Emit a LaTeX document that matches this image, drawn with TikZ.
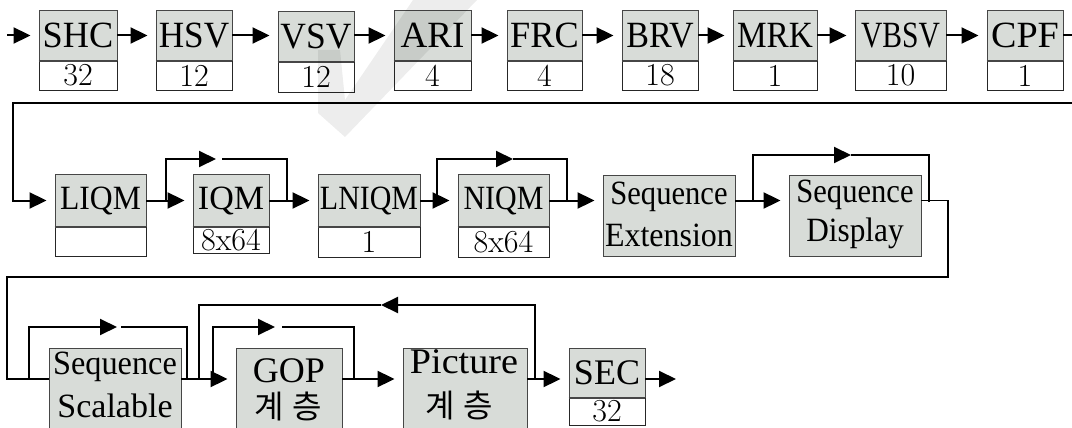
\documentclass[tikz,border=0pt]{standalone}
\usepackage{fontspec}
\usepackage{graphicx}
\usetikzlibrary{arrows.meta}
\newfontfamily\boxfont{Liberation Serif}
\newfontfamily\krfont{Noto Sans CJK KR}
\definecolor{boxgray}{RGB}{216,220,216}
\definecolor{edge}{RGB}{70,70,70}
% horizontal squeeze of a label
\newcommand\hsq[2]{\scalebox{#1}[1]{#2}}
\newcommand\kr{{\krfont 계\hspace{0.26em}층}}

\begin{document}
\begin{tikzpicture}[x=1pt,y=-1pt,
  head/.style={draw=edge, line width=0.9pt, fill=boxgray, inner sep=0pt},
  big/.style={font=\boxfont\fontsize{37}{40}\selectfont},
  mid/.style={font=\boxfont\fontsize{34}{38}\selectfont},
  low/.style={font=\boxfont\fontsize{36}{38}\selectfont},
  krtext/.style={font=\fontsize{32}{34}\selectfont, inner sep=0pt},
  word/.style={inner sep=0pt, anchor=base},
  tag/.style={draw=black!85, line width=0.8pt, fill=white, inner sep=0pt,
              font=\fontsize{32}{32}\selectfont},
  cut/.style={draw=edge, line width=2pt},
  tip/.style={-{Triangle[length=17pt,width=16pt]}},
  wire/.style={line width=2pt},
  thinwire/.style={line width=1.1pt},
  midwire/.style={line width=1.5pt},
  link/.style={wire, tip, shorten >=8pt}]

\useasboundingbox (0,0) rectangle (1072,428);
\fill[white] (0,0) rectangle (1072,428);
\clip (0,0) rectangle (1072,428);

% ---------- first row ----------
\node[head, big, minimum width=78pt, minimum height=51pt] (shc) at (78,35.5) {\hsq{0.98}{SHC}};
\node[tag, minimum width=78pt, minimum height=29pt] (shc-n) at (78,75.5) {32};
\node[head, big, minimum width=76pt, minimum height=51pt] (hsv) at (194,35.5) {\hsq{0.95}{HSV}};
\node[tag, minimum width=76pt, minimum height=29pt] (hsv-n) at (194,75.5) {12};
\node[head, big, minimum width=76pt, minimum height=51pt] (vsv) at (316,36.5) {\hsq{0.96}{VSV}};
\node[tag, minimum width=76pt, minimum height=30pt] (vsv-n) at (316,77) {12};
\node[head, big, minimum width=77pt, minimum height=51pt] (ari) at (432.5,35.5) {ARI};
\node[tag, minimum width=77pt, minimum height=29pt] (ari-n) at (432.5,75.5) {4};
\node[head, big, minimum width=75pt, minimum height=51pt] (frc) at (544.5,35.5) {\hsq{0.98}{FRC}};
\node[tag, minimum width=75pt, minimum height=29pt] (frc-n) at (544.5,75.5) {4};
\node[head, big, minimum width=76pt, minimum height=51pt] (brv) at (660,35.5) {\hsq{0.92}{BRV}};
\node[tag, minimum width=76pt, minimum height=29pt] (brv-n) at (660,75.5) {18};
\node[head, big, minimum width=84pt, minimum height=51pt] (mrk) at (775,35.5) {\hsq{0.9}{MRK}};
\node[tag, minimum width=84pt, minimum height=29pt] (mrk-n) at (775,75.5) {1};
\node[head, big, minimum width=91pt, minimum height=51pt] (vbsv) at (900.5,35.5) {\hsq{0.8}{VBSV}};
\node[tag, minimum width=91pt, minimum height=29pt] (vbsv-n) at (900.5,75.5) {10};
\node[head, big, minimum width=76pt, minimum height=51pt] (cpf) at (1025,35.5) {\hsq{1.03}{CPF}};
\node[tag, minimum width=76pt, minimum height=29pt] (cpf-n) at (1025,75.5) {1};

\foreach \b in {shc,hsv,vsv,ari,frc,brv,mrk,vbsv,cpf}
  \draw[cut] (\b.south west) -- (\b.south east);

\coordinate (in1) at (7,35.5);
\draw[link] (in1) -- (shc);
\draw[link] (shc) -- (hsv);
\draw[link] (hsv) -- (vsv.west |- hsv);
\draw[link] (vsv.east |- ari) -- (ari);
\draw[link] (ari) -- (frc);
\draw[link] (frc) -- (brv);
\draw[link] (brv) -- (mrk);
\draw[link] (mrk) -- (vbsv);
\draw[link] (vbsv) -- (cpf);

% ---------- second row ----------
\node[head, mid, minimum width=91pt, minimum height=53pt] (liqm) at (100.5,200.5) {\hsq{0.93}{LIQM}};
\node[tag, minimum width=91pt, minimum height=29pt] (liqm-n) at (100.5,241.5) {};
\node[head, mid, minimum width=76pt, minimum height=53pt] (iqm) at (231,200.5) {IQM};
\node[tag, minimum width=76pt, minimum height=26pt] (iqm-n) at (231,240) {8x64};
\node[head, mid, minimum width=102pt, minimum height=53pt] (lniqm) at (369,200.5) {\hsq{0.88}{LNIQM}};
\node[tag, minimum width=102pt, minimum height=30pt] (lniqm-n) at (369,242) {1};
\node[head, mid, minimum width=91pt, minimum height=53pt] (niqm) at (503.5,200.5) {\hsq{0.88}{NIQM}};
\node[tag, minimum width=91pt, minimum height=30pt] (niqm-n) at (503.5,242) {8x64};
\foreach \b in {liqm,iqm,lniqm,niqm}
  \draw[cut] (\b.south west) -- (\b.south east);

\node[head, minimum width=132pt, minimum height=81pt] (sext) at (669,215.5) {};
\node[word, mid] (sext-a) at (669,204) {\hsq{0.9}{Sequence}};
\node[word, mid] (sext-b) at (669,246) {\hsq{0.94}{Extension}};
\node[head, minimum width=132pt, minimum height=81pt] (sdisp) at (855,215.5) {};
\node[word, mid] (sdisp-a) at (855,202) {\hsq{0.9}{Sequence}};
\node[word, mid] (sdisp-b) at (855,241) {\hsq{0.92}{Display}};

% wrap from the end of the first row
\draw[link] (cpf.east) -- (1085,35.5) -- (1085,103) -- (13,103) -- (13,200.5) -- (liqm.west);
\draw[link] (liqm) -- (iqm);
\draw[link] (iqm) -- (lniqm);
\draw[link] (lniqm) -- (niqm);
\draw[link] (niqm.east) -- (niqm.east -| sext.west);
\draw[link] (sext.east |- niqm.east) -- (sdisp.west |- niqm.east);

% optional branches of the second row
\draw[wire, tip] (166,200.5) |- (216,159);
\draw[thinwire] (222,159) -| (287,200.5);
\draw[wire, tip] (437,200.5) |- (513,159);
\draw[thinwire] (513,159) -| (567,202);
\draw[wire, tip] (753,200.5) |- (851,155);
\draw[thinwire] (851,155) -| (929,202);

% ---------- third row ----------
\coordinate (r3) at (0,379);
\node[head, minimum width=132pt, minimum height=84pt] (sscal) at (115,390) {};
\node[word, mid] (sscal-a) at (115,374) {\hsq{0.95}{Sequence}};
\node[word, mid] (sscal-b) at (115,417) {Scalable};
\node[head, minimum width=106pt, minimum height=84pt] (gop) at (289,390) {};
\node[word, low] (gop-a) at (289,382) {GOP};
\node[krtext] (gop-b) at (288,406) {\kr};
\node[head, minimum width=124pt, minimum height=84pt] (pic) at (465,390) {};
\node[word, low] (pic-a) at (464,373) {\hsq{1.06}{Picture}};
\node[krtext] (pic-b) at (459,405) {\kr};
\node[head, low, minimum width=76pt, minimum height=50pt] (sec) at (607,373) {SEC};
\node[tag, minimum width=76pt, minimum height=27pt] (sec-n) at (607,411.5) {32};
\draw[cut] (sec.south west) -- (sec.south east);

% wrap from the end of the second row
\draw[midwire] (sdisp.east |- niqm.east) -- (948,200.5) -- (948,277) -- (7,277) -- (7,379) -- (sscal.west |- r3);

\draw[wire, tip] (29,379) |- (117,327);
\draw[thinwire] (121,327) -| (187,379);
\draw[link] (sscal.east |- r3) -- (gop.west |- r3);
\draw[wire, tip] (535,379) |- (381,305);
\draw[midwire] (381,305) -| (199,379);
\draw[wire, tip] (213,379) |- (275,327);
\draw[thinwire] (282,327) -| (354,379);
\draw[link] (gop.east |- r3) -- (pic.west |- r3);
\draw[link] (pic.east |- r3) -- (sec.west |- r3);
\coordinate (out) at (676,379);
\draw[wire, tip] (sec.east |- r3) -- (out);

% faint check-mark watermark
\fill[black, opacity=0.07] (318,50) -- (340,50) -- (345,100) -- (413,0) -- (477,0) -- (345,137) -- (318,113) -- cycle;
\end{tikzpicture}
\end{document}
